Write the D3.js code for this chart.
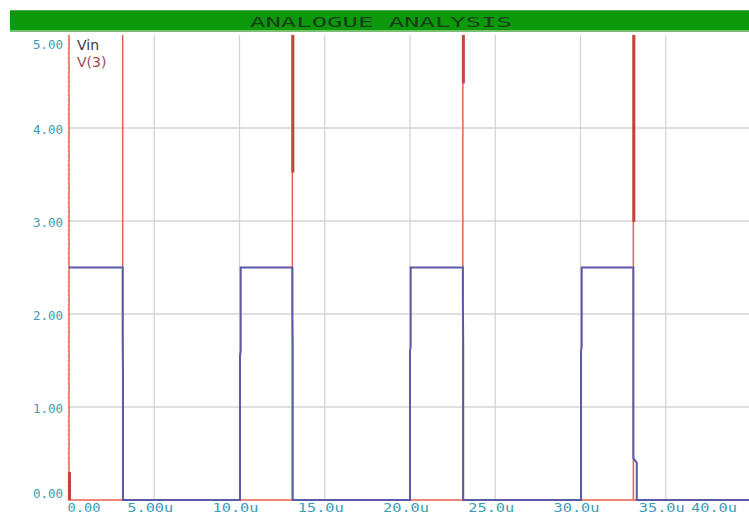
<!DOCTYPE html>
<html>
<head>
<meta charset="utf-8">
<script src="https://cdn.jsdelivr.net/npm/d3@7"></script>
<style>
  html, body { margin: 0; padding: 0; background: #fff; }
  svg { display: block; }
</style>
</head>
<body>
<svg id="chart" width="749" height="517"></svg>
<script>
// ---- data (time in microseconds, voltage in volts) ----
const titleText = "ANALOGUE  ANALYSIS";
const seriesNames = ["Vin", "V(3)"];
const yTicks = [0, 1, 2, 3, 4, 5];
const yTickLabels = ["0.00", "1.00", "2.00", "3.00", "4.00", "5.00"];
const xTicks = [0, 5, 10, 15, 20, 25, 30, 35, 40];
const xTickLabels = ["0.00", "5.00u", "10.0u", "15.0u", "20.0u", "25.0u", "30.0u", "35.0u", "40.0u"];

// Vin: 2.5 V pulses, period 10u, width about 3.1u
const vinTime = [0, 3.15, 3.15, 3.17, 3.17, 10.03, 10.03, 10.07, 10.07, 13.1, 13.1, 13.12, 13.12,
                 20.0, 20.0, 20.04, 20.04, 23.1, 23.1, 23.12, 23.12, 30.03, 30.03, 30.07, 30.07,
                 33.1, 33.1, 33.3, 33.3, 40];
const vinVolt = [2.5, 2.5, 1.75, 1.29, 0, 0, 1.55, 1.6, 2.5, 2.5, 2.0, 1.67, 0,
                 0, 1.6, 1.65, 2.5, 2.5, 2.15, 1.67, 0, 0, 1.6, 1.65, 2.5,
                 2.5, 0.45, 0.4, 0, 0];

// V(3): sits at 0 V, spikes off-scale at t = 0 and at each falling edge of Vin
const v3Time = [0, 0, 0, 3.15, 3.15, 3.15, 13.1, 13.1, 13.1, 23.1, 23.1, 23.1, 33.1, 33.1, 33.1, 40];
const v3Volt = [0, 6, 0, 0, 6, 0, 0, 6, 0, 0, 6, 0, 0, 6, 0, 0];

// V(3) densely sampled stretches of each spike: [time, low volt, high volt]
const v3DenseTime = [0, 13.1, 23.1, 33.1];
const v3DenseLow = [0, 3.52, 4.48, 2.99];
const v3DenseHigh = [0.3, 5.2, 5.2, 5.2];

// ---- layout ----
const svg = d3.select("#chart");
const W = 749, H = 517;
const plot = { left: 69, right: 749, top: 35, bottom: 500 };

const x = d3.scaleLinear().domain([0, 40]).range([plot.left, 751]);
const y = d3.scaleLinear().domain([0, 5]).range([plot.bottom, plot.top]);

// title band
svg.append("rect").attr("x", 10).attr("y", 10).attr("width", W - 10).attr("height", 22)
  .attr("fill", "#0c9a0c");
svg.append("rect").attr("x", 10).attr("y", 30).attr("width", W - 10).attr("height", 2)
  .attr("fill", "#78c070");
svg.append("rect").attr("x", 10).attr("y", 10).attr("width", W - 10).attr("height", 1)
  .attr("fill", "#4cb04c");
svg.append("text").attr("x", 381).attr("y", 21.5)
  .attr("text-anchor", "middle").attr("dominant-baseline", "central")
  .attr("font-family", "DejaVu Sans Mono, monospace").attr("font-size", 14)
  .attr("textLength", 262).attr("lengthAdjust", "spacingAndGlyphs")
  .attr("fill", "#173f17").text(titleText);

// clip for traces
svg.append("clipPath").attr("id", "plotclip").append("rect")
  .attr("x", plot.left - 2).attr("y", plot.top).attr("width", plot.right - plot.left + 2)
  .attr("height", plot.bottom - plot.top + 2);

// grid
const grid = svg.append("g");
grid.selectAll("line.h").data(yTicks.filter(v => v > 0 && v < 5)).join("line")
  .attr("x1", plot.left).attr("x2", plot.right)
  .attr("y1", d => y(d)).attr("y2", d => y(d))
  .attr("stroke", "#d4d4d4").attr("stroke-width", 1.3);
grid.selectAll("line.v").data(xTicks.filter(v => v > 0 && v < 40)).join("line")
  .attr("x1", d => x(d)).attr("x2", d => x(d))
  .attr("y1", plot.top).attr("y2", plot.bottom)
  .attr("stroke", "#d4d4d4").attr("stroke-width", 1.3);

// minor ticks along the y axis
const yMinor = d3.range(0, 5.001, 0.05);
grid.selectAll("line.ym").data(yMinor).join("line")
  .attr("x1", plot.left - 2).attr("x2", plot.left + 1)
  .attr("y1", d => y(d)).attr("y2", d => y(d))
  .attr("stroke", "#eab4b4").attr("stroke-width", 0.7);

// y tick labels
svg.append("g").selectAll("text").data(yTicks).join("text")
  .attr("x", 63)
  .attr("y", d => Math.max(45, Math.min(494, y(d) + 2)))
  .attr("text-anchor", "end").attr("dominant-baseline", "central")
  .attr("font-family", "DejaVu Sans Mono, monospace").attr("font-size", 12)
  .attr("textLength", 30).attr("lengthAdjust", "spacingAndGlyphs")
  .attr("fill", "#3a9cb8")
  .text((d, i) => yTickLabels[i]);

// x tick labels
svg.append("g").selectAll("text").data(xTicks).join("text")
  .attr("x", d => Math.max(84, Math.min(714, x(d) - 4)))
  .attr("y", 508)
  .attr("text-anchor", "middle").attr("dominant-baseline", "central")
  .attr("font-family", "DejaVu Sans Mono, monospace").attr("font-size", 12)
  .attr("textLength", (d, i) => xTickLabels[i].length === 4 ? 33 : 46)
  .attr("lengthAdjust", "spacingAndGlyphs")
  .attr("fill", "#3a9cb8")
  .text((d, i) => xTickLabels[i]);

// traces
const traces = svg.append("g").attr("clip-path", "url(#plotclip)");
const line = d3.line().x(d => x(d[0])).y(d => y(d[1]));

const v3Pts = v3Time.map((t, i) => [t, v3Volt[i]]);
traces.append("path").attr("d", line(v3Pts))
  .attr("fill", "none").attr("stroke", "#e6604e").attr("stroke-width", 1.5);

traces.selectAll("line.dense").data(v3DenseTime).join("line")
  .attr("x1", d => x(d) + 0.5).attr("x2", d => x(d) + 0.5)
  .attr("y1", (d, i) => y(v3DenseLow[i])).attr("y2", (d, i) => y(v3DenseHigh[i]))
  .attr("stroke", "#c0463c").attr("stroke-width", 3);

const vinPts = vinTime.map((t, i) => [t, vinVolt[i]]);
traces.append("path").attr("d", line(vinPts))
  .attr("fill", "none").attr("stroke", "#5a5aa8").attr("stroke-width", 2)
  .attr("stroke-linejoin", "miter");

// legend
svg.append("text").attr("x", 77).attr("y", 45).attr("dominant-baseline", "central")
  .attr("font-family", "DejaVu Sans, sans-serif").attr("font-size", 14)
  .attr("fill", "#3a3a3a").text(seriesNames[0]);
svg.append("text").attr("x", 77).attr("y", 62).attr("dominant-baseline", "central")
  .attr("font-family", "DejaVu Sans, sans-serif").attr("font-size", 14)
  .attr("fill", "#a04a4a").text(seriesNames[1]);
</script>
</body>
</html>
